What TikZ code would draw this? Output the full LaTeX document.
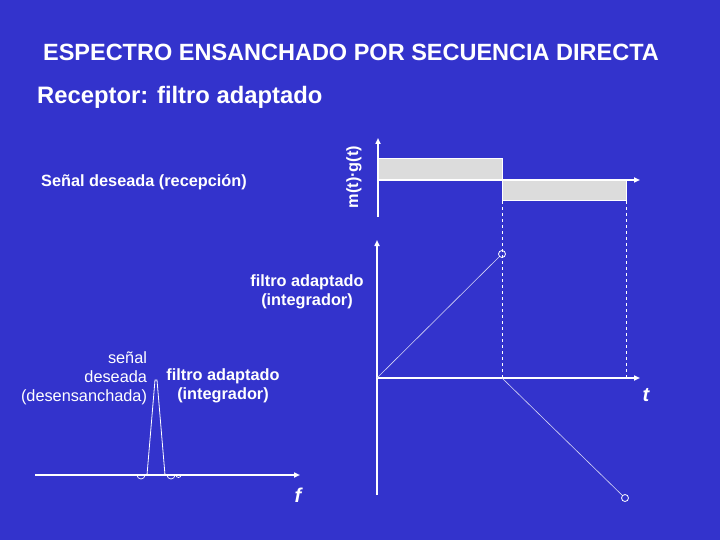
\documentclass[tikz,border=0pt]{standalone}
\usepackage{fontspec}
\setmainfont{Liberation Sans}
\usetikzlibrary{arrows.meta}
\definecolor{bg}{RGB}{51,51,204}
\definecolor{bar}{RGB}{220,220,220}
\begin{document}
\begin{tikzpicture}[x=1pt,y=-1pt,
  ax/.style={white,line width=1.5pt,-{Triangle[length=6pt,width=5pt]}},
  dsh/.style={white,dashed,line width=0.8pt},
  thin line/.style={white!80!bg,line width=0.6pt},
  txt/.style={text=white,inner sep=0pt,font=\bfseries\fontsize{16.3}{19}\selectfont,align=center}]
\fill[bg] (0,0) rectangle (720,540);
\useasboundingbox (0,0) rectangle (720,540);
\node[txt,font=\bfseries\fontsize{23.5}{26}\selectfont] (title) at (351,52) {ESPECTRO ENSANCHADO POR SECUENCIA DIRECTA};
\node[txt,anchor=west,font=\bfseries\fontsize{23.8}{26}\selectfont] (rec) at (37,97) {Receptor: filtro adaptado};
\node[txt] (sd) at (144,182) {Señal deseada (recepción)};
\node[txt,rotate=90] (mg) at (354,177) {m(t)·g(t)};
% top plot
\fill[bar,draw=white,line width=1pt] (378,159) rectangle (502,180);
\fill[bar,draw=white,line width=1pt] (502,180) rectangle (626,201);
\coordinate (o1) at (378,217);
\coordinate (y1) at (378,138);
\coordinate (x0) at (378,180);
\coordinate (x1) at (640,180);
\draw[ax] (o1) -- (y1);
\draw[ax] (x0) -- (x1);
% bottom plot
\coordinate (o2) at (377,495);
\coordinate (y2) at (377,240);
\coordinate (x2) at (377,378);
\coordinate (x3) at (640,378);
\draw[ax] (o2) -- (y2);
\draw[ax] (x2) -- (x3);
\draw[dsh] (502,201) -- (502,378);
\draw[dsh] (626,201) -- (626,378);
\node[draw=white,circle,minimum size=7pt,inner sep=0pt,line width=0.8pt] (c1) at (502,254) {};
\node[draw=white,circle,minimum size=7pt,inner sep=0pt,line width=0.8pt] (c2) at (625,498) {};
\coordinate (m1) at (502,378);
\draw[thin line] (x2) -- (c1);
\draw[thin line] (m1) -- (c2);
\node[txt,font=\bfseries\fontsize{20}{22}\selectfont\itshape] (t) at (646,395) {t};
\node[txt] (fa1) at (307,292) {filtro adaptado\\(integrador)};
% spectrum
\coordinate (f0) at (35,475);
\coordinate (f1) at (300,475);
\draw[ax] (f0) -- (f1);
\draw[white,line width=0.8pt] (147,475) -- (155,380) -- (157,380) -- (165,475);
\draw[white,line width=0.7pt] (137,475) arc[start angle=180,end angle=0,radius=4];
\draw[white,line width=0.7pt] (167,475) arc[start angle=180,end angle=0,radius=4];
\draw[white,line width=0.7pt] (176,475) arc[start angle=180,end angle=0,radius=2.5];
\node[txt,font=\bfseries\fontsize{20}{22}\selectfont\itshape] (f) at (298,495) {f};
\node[txt,align=right,font=\fontsize{16.3}{19}\selectfont] (sdd) at (84,378) {señal\\deseada\\(desensanchada)};
\node[txt,font=\bfseries\fontsize{16.3}{19}\selectfont] (fa2) at (223,386) {filtro adaptado\\(integrador)};
\end{tikzpicture}
\end{document}
